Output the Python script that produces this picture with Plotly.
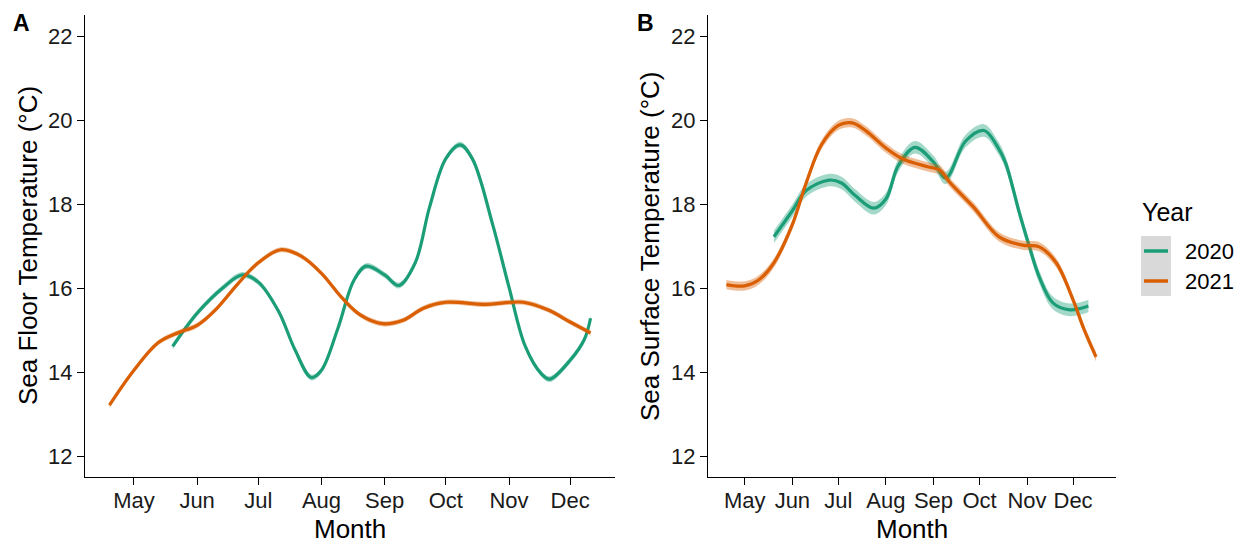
import plotly.graph_objects as go

# ---------------- data ----------------
month_ticks = ["2021-05-01", "2021-06-01", "2021-07-01", "2021-08-01",
               "2021-09-01", "2021-10-01", "2021-11-01", "2021-12-01"]
month_labels = ["May", "Jun", "Jul", "Aug", "Sep", "Oct", "Nov", "Dec"]

# Panel A: sea floor temperature
a2020_dates = ["2021-05-20", "2021-06-01", "2021-06-14", "2021-06-23", "2021-07-01",
               "2021-07-11", "2021-07-19", "2021-07-27", "2021-08-01", "2021-08-09",
               "2021-08-17", "2021-08-23", "2021-09-01", "2021-09-08", "2021-09-16",
               "2021-09-23", "2021-10-01", "2021-10-08", "2021-10-14", "2021-10-24",
               "2021-11-01", "2021-11-09", "2021-11-17", "2021-11-21", "2021-12-01",
               "2021-12-08", "2021-12-11"]
a2020_vals = [14.61, 15.40, 16.02, 16.31, 16.14, 15.44, 14.53, 13.87, 14.04, 15.03,
              16.19, 16.52, 16.31, 16.06, 16.60, 17.92, 19.08, 19.41, 19.08, 17.51,
              16.02, 14.61, 13.95, 13.83, 14.28, 14.78, 15.28]
a2021_dates = ["2021-04-19", "2021-05-01", "2021-05-13", "2021-05-23", "2021-06-01",
               "2021-06-10", "2021-06-21", "2021-07-01", "2021-07-12", "2021-07-22",
               "2021-08-01", "2021-08-11", "2021-08-20", "2021-08-31", "2021-09-10",
               "2021-09-20", "2021-10-01", "2021-10-20", "2021-11-08", "2021-11-20",
               "2021-12-01", "2021-12-11"]
a2021_vals = [13.21, 14.04, 14.70, 14.94, 15.11, 15.48, 16.10, 16.60, 16.91, 16.76,
              16.35, 15.77, 15.36, 15.15, 15.23, 15.52, 15.66, 15.61, 15.66, 15.48,
              15.19, 14.93]

# Panel B: sea surface temperature
b2020_dates = ["2021-05-20", "2021-06-01", "2021-06-10", "2021-06-25", "2021-07-03",
               "2021-07-12", "2021-07-24", "2021-08-01", "2021-08-09", "2021-08-20",
               "2021-09-01", "2021-09-09", "2021-09-22", "2021-10-04", "2021-10-13",
               "2021-10-18", "2021-10-27", "2021-11-02", "2021-11-09", "2021-11-18",
               "2021-11-29", "2021-12-11"]
b2020_vals = [17.22, 17.84, 18.32, 18.57, 18.50, 18.20, 17.90, 18.12, 18.91, 19.35,
              19.00, 18.62, 19.50, 19.75, 19.35, 18.98, 17.79, 17.05, 16.26, 15.64,
              15.48, 15.57]
b2021_dates = ["2021-04-19", "2021-05-01", "2021-05-10", "2021-05-20", "2021-06-01",
               "2021-06-10", "2021-06-20", "2021-07-01", "2021-07-10", "2021-07-19",
               "2021-08-01", "2021-08-12", "2021-08-29", "2021-09-05", "2021-09-12",
               "2021-09-27", "2021-10-14", "2021-10-29", "2021-11-09", "2021-11-20",
               "2021-12-01", "2021-12-08", "2021-12-16"]
b2021_vals = [16.08, 16.05, 16.19, 16.60, 17.51, 18.50, 19.41, 19.87, 19.93, 19.74,
              19.33, 19.07, 18.88, 18.81, 18.50, 17.93, 17.21, 17.02, 16.98, 16.60,
              15.72, 15.03, 14.36]

# half-widths of the confidence ribbons
se_a2020 = 0.07
se_a2021 = 0.06
se_b2020 = 0.15
se_b2021 = 0.11

years = ["2020", "2021"]
col = {"2020": "#1B9E77", "2021": "#D95F02"}
fillcol = {"2020": "rgba(27,158,119,0.40)", "2021": "rgba(217,95,2,0.40)"}

FONT = "Liberation Sans, Arial, sans-serif"

fig = go.Figure()


def add_series(dates, vals, se, year, xa, ya):
    lo = [v - se for v in vals]
    hi = [v + se for v in vals]
    fig.add_trace(go.Scatter(x=dates, y=lo, mode="lines", line=dict(width=0, shape="spline"),
                             showlegend=False, hoverinfo="skip", xaxis=xa, yaxis=ya))
    fig.add_trace(go.Scatter(x=dates, y=hi, mode="lines", line=dict(width=0, shape="spline"),
                             fill="tonexty", fillcolor=fillcol[year],
                             showlegend=False, hoverinfo="skip", xaxis=xa, yaxis=ya))
    fig.add_trace(go.Scatter(x=dates, y=vals, mode="lines",
                             line=dict(color=col[year], width=3.2, shape="spline", smoothing=1.0),
                             name=year, showlegend=False, xaxis=xa, yaxis=ya))


add_series(a2020_dates, a2020_vals, se_a2020, "2020", "x", "y")
add_series(a2021_dates, a2021_vals, se_a2021, "2021", "x", "y")
add_series(b2020_dates, b2020_vals, se_b2020, "2020", "x2", "y2")
add_series(b2021_dates, b2021_vals, se_b2021, "2021", "x2", "y2")

W, H = 1246, 543

axis_common = dict(showline=True, linecolor="black", linewidth=1.3, showgrid=False,
                   zeroline=False, ticks="outside", ticklen=7, tickwidth=1.3,
                   tickcolor="black", tickfont=dict(family=FONT, size=22, color="#1a1a1a"))

xa_dom = [85 / W, 615 / W]
xb_dom = [708 / W, 1116 / W]
y_dom = [1 - 477 / H, 1 - 15 / H]

fig.update_layout(
    width=W, height=H,
    margin=dict(l=0, r=0, t=0, b=0),
    paper_bgcolor="white", plot_bgcolor="white",
    xaxis=dict(domain=xa_dom, type="date", range=["2021-04-07", "2021-12-23"],
               tickvals=month_ticks, ticktext=month_labels, anchor="y",
               ticklabelstandoff=-4, **axis_common),
    yaxis=dict(domain=y_dom, range=[11.5, 22.5], tickvals=[12, 14, 16, 18, 20, 22],
               anchor="x", **axis_common),
    xaxis2=dict(domain=xb_dom, type="date", range=["2021-04-07", "2021-12-29"],
                tickvals=month_ticks, ticktext=month_labels, anchor="y2",
                ticklabelstandoff=-4, **axis_common),
    yaxis2=dict(domain=y_dom, range=[11.5, 22.5], tickvals=[12, 14, 16, 18, 20, 22],
                anchor="x2", **axis_common),
    showlegend=False,
)


def px_x(p):
    return p / W


def px_y(p):
    return 1 - p / H


ann = []
# panel tags
ann.append(dict(text="<b>A</b>", x=px_x(21), y=px_y(23), font=dict(size=23)))
ann.append(dict(text="<b>B</b>", x=px_x(645), y=px_y(23), font=dict(size=23)))
# axis titles
ann.append(dict(text="Sea Floor Temperature (°C)", x=px_x(28), y=px_y(246), textangle=-90,
                font=dict(size=26)))
ann.append(dict(text="Sea Surface Temperature (°C)", x=px_x(650), y=px_y(246), textangle=-90,
                font=dict(size=26)))
ann.append(dict(text="Month", x=px_x(350), y=px_y(529), font=dict(size=26)))
ann.append(dict(text="Month", x=px_x(912), y=px_y(529), font=dict(size=26)))
# legend
ann.append(dict(text="Year", x=px_x(1140), y=px_y(212), xanchor="left", font=dict(size=25)))
leg_y = {"2020": 251, "2021": 281}
for yr in years:
    ann.append(dict(text=yr, x=px_x(1183), y=px_y(leg_y[yr]), xanchor="left", font=dict(size=22)))

for a in ann:
    a.setdefault("xanchor", "center")
    a.update(xref="paper", yref="paper", yanchor="middle", showarrow=False)
    a["font"].update(family=FONT, color="black")
    fig.add_annotation(**a)

shapes = [dict(type="rect", xref="paper", yref="paper", x0=px_x(1141), x1=px_x(1171),
               y0=px_y(296), y1=px_y(236), fillcolor="#D9D9D9", line=dict(width=0), layer="below")]
for yr in years:
    shapes.append(dict(type="line", xref="paper", yref="paper", x0=px_x(1144), x1=px_x(1168),
                       y0=px_y(leg_y[yr]), y1=px_y(leg_y[yr]), line=dict(color=col[yr], width=3.5)))
fig.update_layout(shapes=shapes)

fig.write_html("out.html", config={"displayModeBar": False},
               post_script="document.body.style.margin='0px';document.body.style.overflow='hidden';")
